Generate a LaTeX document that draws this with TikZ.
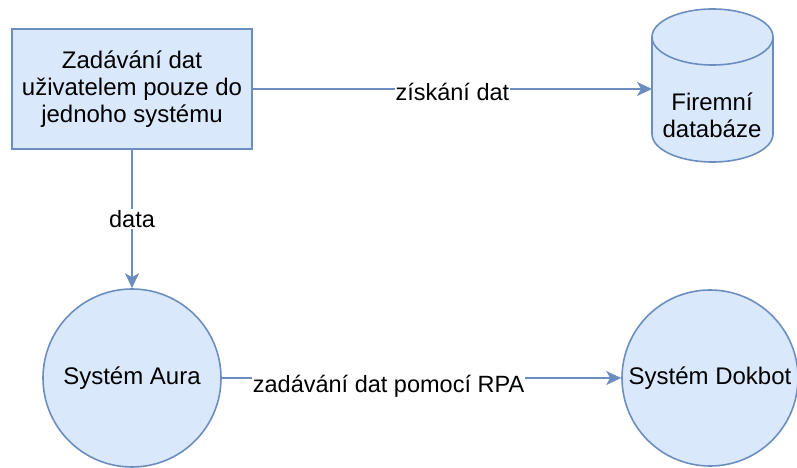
\documentclass[tikz,border=0pt]{standalone}
\usepackage{fontspec}
\setmainfont{Liberation Sans}
\usetikzlibrary{arrows.meta}
\definecolor{boxfill}{HTML}{DAE8FC}
\definecolor{boxline}{HTML}{6C8EBF}
\begin{document}
\begin{tikzpicture}[x=1pt,y=-1pt,
  shapebox/.style={draw=boxline, fill=boxfill, line width=1.6pt},
  flow/.style={draw=boxline, line width=1.6pt, -{Stealth[length=15pt,width=14pt,inset=4pt]}},
  lbl/.style={fill=white, inner sep=1pt, text=black, font=\fontsize{23.5}{27}\selectfont},
  every node/.style={font=\fontsize{24}{27}\selectfont, text=black}]
\useasboundingbox (0,0) rectangle (797,468);

% input box
\node[shapebox, rectangle, minimum width=240pt, minimum height=120pt, align=center, inner sep=0pt]
  (input) at (132,89) {Zadávání dat\\uživatelem pouze do\\jednoho systému};

% database cylinder
\path[shapebox] (652,37) -- (652,134) arc[start angle=180, end angle=0, x radius=60.5, y radius=28]
  -- (773,37) arc[start angle=0, end angle=-180, x radius=60.5, y radius=28] -- cycle;
\draw[draw=boxline, line width=1.6pt] (652,37) arc[start angle=180, end angle=0, x radius=60.5, y radius=28];
\node[align=center] (db) at (712,115) {Firemní\\databáze};
\coordinate (dbw) at (652,89);

% systems
\node[shapebox, circle, minimum size=178pt, inner sep=0pt] (aura) at (132,378) {Systém Aura};
\node[shapebox, circle, minimum size=176pt, inner sep=0pt] (dokbot) at (710,378) {Systém Dokbot};

% data flows
\draw[flow] (input.east) -- node[lbl, yshift=-3pt] {získání dat} (dbw);
\draw[flow] (input.south) -- node[lbl] {data} (aura.north);
\draw[flow] (aura.east) -- node[lbl, pos=0.4175, yshift=-8pt] {zadávání dat pomocí RPA} (dokbot.west);
\end{tikzpicture}
\end{document}
